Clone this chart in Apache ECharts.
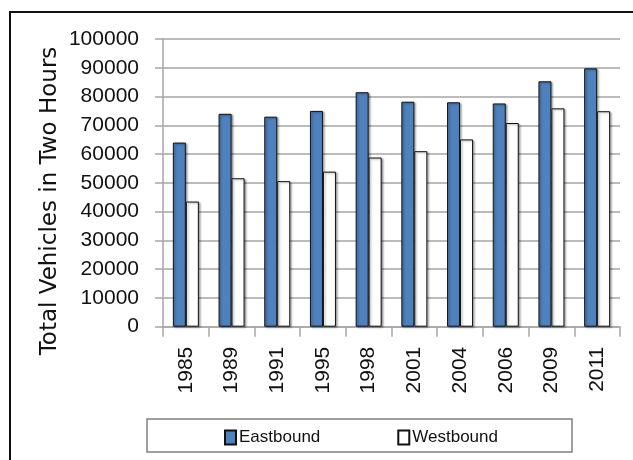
<!DOCTYPE html>
<html>
<head>
<meta charset="utf-8">
<script src="https://cdn.jsdelivr.net/npm/echarts@6/dist/echarts.min.js"></script>
<style>
  html, body { margin: 0; padding: 0; background: #fff; }
  #chart { width: 633px; height: 460px; }
</style>
</head>
<body>
<div id="chart"></div>
<script>
// Survey years on the category axis
const years = ['1985', '1989', '1991', '1995', '1998', '2001', '2004', '2006', '2009', '2011'];
// Vehicle counts over a two-hour count, by direction
const eastbound = [64000, 74000, 73000, 75000, 81500, 78200, 78000, 77600, 85300, 89800];
const westbound = [43500, 51600, 50600, 53900, 58800, 61000, 65100, 70800, 75900, 74900];
// Value axis range
const yMin = 0, yMax = 100000, yStep = 10000;
const yTitle = 'Total Vehicles in Two Hours';

const FONT = 'Liberation Sans';
const TITLE_FONT = 'DejaVu Sans';
const chart = echarts.init(document.getElementById('chart'), null, { renderer: 'canvas' });

const barStyle = (fill) => ({
  color: fill,
  borderColor: '#111',
  borderWidth: 1,
  shadowColor: 'rgba(0,0,0,0.35)',
  shadowBlur: 2,
  shadowOffsetX: 1.5,
  shadowOffsetY: 1
});

chart.setOption({
  animation: false,
  backgroundColor: '#fff',
  textStyle: { fontFamily: FONT },
  graphic: [
    // outer chart frame
    { type: 'rect', z: 0, shape: { x: 10, y: 12, width: 640, height: 470 },
      style: { fill: 'none', stroke: '#111', lineWidth: 2 } },
    // legend box
    { type: 'rect', z: 0, shape: { x: 147, y: 419, width: 425, height: 33 },
      style: { fill: '#fff', stroke: '#808080', lineWidth: 1.5 } },
    // value axis title, set a little below the axis midpoint
    { type: 'text', z: 5, x: 50, y: 201, rotation: Math.PI / 2,
      style: { text: yTitle, fontFamily: TITLE_FONT, fontSize: 23, fill: '#111',
               align: 'center', verticalAlign: 'middle' } }
  ],
  grid: { left: 163, right: 13, top: 39, bottom: 133.3, containLabel: false },
  legend: {
    left: 219, top: 424,
    itemWidth: 11, itemHeight: 14, itemGap: 77,
    icon: 'rect',
    textStyle: { fontFamily: FONT, fontSize: 17, color: '#111', padding: [0, 0, 0, -2] },
    data: ['Eastbound', 'Westbound']
  },
  xAxis: {
    type: 'category',
    data: years,
    boundaryGap: true,
    axisLine: { show: true, lineStyle: { color: '#a6a6a6', width: 1.5 } },
    axisTick: { show: true, length: 10, alignWithLabel: false, lineStyle: { color: '#a6a6a6', width: 1.5 } },
    axisLabel: { rotate: 90, margin: 20, fontSize: 21, color: '#111', fontFamily: FONT }
  },
  yAxis: {
    type: 'value',
    min: yMin, max: yMax, interval: yStep,
    axisLine: { show: true, lineStyle: { color: '#a6a6a6', width: 1.5 } },
    axisTick: { show: true, length: 8, lineStyle: { color: '#a6a6a6', width: 1.5 } },
    axisLabel: { margin: 24, fontSize: 21, color: '#111', fontFamily: FONT,
      formatter: (v) => String(v) },
    splitLine: { show: true, lineStyle: { color: '#a6a6a6', width: 1.5 } }
  },
  series: [
    { name: 'Eastbound', type: 'bar', data: eastbound, barWidth: 13, barGap: '0%',
      itemStyle: barStyle('#4f81bd') },
    { name: 'Westbound', type: 'bar', data: westbound, barWidth: 13, barGap: '0%',
      itemStyle: barStyle('#ffffff') }
  ]
});
</script>
</body>
</html>
